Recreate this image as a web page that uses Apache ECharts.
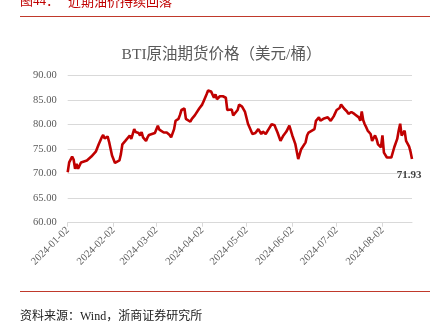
<!DOCTYPE html>
<html>
<head>
<meta charset="utf-8">
<script src="https://cdn.jsdelivr.net/npm/echarts@6/dist/echarts.min.js"></script>
<style>
html,body{margin:0;padding:0;background:#fff;}
#chart{width:443px;height:322px;}
</style>
</head>
<body>
<div id="chart"></div>
<script>
var startDate = '2024-01-02';
var endDate = '2024-08-22';
var tickLabels = ['2024-01-02','2024-02-02','2024-03-02','2024-04-02','2024-05-02','2024-06-02','2024-07-02','2024-08-02'];
var yTicks = [60, 65, 70, 75, 80, 85, 90];

var dates = [
'2024-01-02','2024-01-03','2024-01-05','2024-01-06','2024-01-07','2024-01-08','2024-01-09','2024-01-11','2024-01-13','2024-01-15','2024-01-16','2024-01-18','2024-01-19','2024-01-21','2024-01-22','2024-01-23','2024-01-25','2024-01-26','2024-01-27','2024-01-29','2024-01-30',
'2024-02-01','2024-02-03','2024-02-04','2024-02-06','2024-02-07','2024-02-08','2024-02-10','2024-02-11','2024-02-13','2024-02-14','2024-02-15','2024-02-16','2024-02-17','2024-02-19','2024-02-20','2024-02-21','2024-02-22','2024-02-24','2024-02-25','2024-02-26','2024-02-28',
'2024-03-01','2024-03-03','2024-03-04','2024-03-05','2024-03-07','2024-03-08','2024-03-09','2024-03-11','2024-03-12','2024-03-13','2024-03-14','2024-03-15','2024-03-17','2024-03-18','2024-03-19','2024-03-21','2024-03-22','2024-03-23','2024-03-25','2024-03-26','2024-03-28','2024-03-31',
'2024-04-01','2024-04-02','2024-04-03','2024-04-05','2024-04-06','2024-04-08','2024-04-09','2024-04-10','2024-04-11','2024-04-12','2024-04-14','2024-04-15','2024-04-16','2024-04-18','2024-04-19','2024-04-20','2024-04-22','2024-04-23','2024-04-26','2024-04-27','2024-04-29',
'2024-05-01','2024-05-03','2024-05-06','2024-05-08','2024-05-09','2024-05-10','2024-05-12','2024-05-13','2024-05-15','2024-05-17','2024-05-19','2024-05-21','2024-05-22','2024-05-23','2024-05-25','2024-05-27','2024-05-29','2024-05-31',
'2024-06-02','2024-06-04','2024-06-06','2024-06-08','2024-06-11','2024-06-12','2024-06-13','2024-06-14','2024-06-17','2024-06-18','2024-06-20','2024-06-21','2024-06-23','2024-06-24','2024-06-26','2024-06-28','2024-06-30',
'2024-07-02','2024-07-04','2024-07-05','2024-07-07','2024-07-09','2024-07-10','2024-07-12','2024-07-14','2024-07-15','2024-07-17','2024-07-18','2024-07-19','2024-07-20','2024-07-21','2024-07-22','2024-07-23','2024-07-25','2024-07-26','2024-07-28','2024-07-29','2024-07-30',
'2024-08-01','2024-08-02','2024-08-03','2024-08-05','2024-08-06','2024-08-08','2024-08-10','2024-08-12','2024-08-13','2024-08-14','2024-08-15','2024-08-17','2024-08-18','2024-08-20','2024-08-21','2024-08-22'
];
var prices = [
70.3,72.3,73.5,72.9,71.0,72.0,71.0,72.3,72.5,72.7,72.7,73.5,73.7,74.5,74.7,76.0,77.4,77.9,77.2,77.6,76.5,
73.7,72.2,72.3,72.7,74.0,76.0,76.7,77.0,77.8,77.1,78.1,79.1,78.5,78.3,77.8,78.5,77.4,76.7,77.4,77.9,78.1,
78.3,79.8,79.0,79.1,78.4,78.8,78.4,77.9,77.4,77.2,79.1,80.8,81.2,82.0,83.0,83.3,81.2,80.8,80.6,81.2,81.9,83.3,83.5,
84.1,84.8,86.2,87.0,86.8,86.5,85.5,86.2,85.2,85.8,85.6,85.8,85.5,83.0,82.8,83.1,81.9,83.0,84.1,83.7,82.6,
80.2,78.1,78.3,78.4,79.1,78.1,78.6,78.1,79.1,80.1,79.9,79.1,78.4,76.7,77.8,78.6,79.8,77.8,
76.1,73.0,75.0,76.4,77.8,78.4,78.8,79.1,80.8,81.5,80.8,81.2,80.9,81.5,80.8,81.7,83.0,
83.4,84.1,83.3,82.7,82.2,82.6,82.2,81.9,81.5,80.8,82.7,80.9,80.1,79.5,78.8,78.1,76.7,77.8,77.1,76.0,75.4,
77.8,74.3,73.3,73.0,73.3,75.4,77.1,78.8,80.2,77.8,78.8,76.7,75.6,74.5,73.0,71.93
];

function fmt(d){
  var m = d.getMonth()+1, day = d.getDate();
  return d.getFullYear() + '-' + (m<10?'0':'') + m + '-' + (day<10?'0':'') + day;
}
var categories = [];
(function(){
  var p = startDate.split('-'), e = endDate.split('-');
  var d = new Date(+p[0], +p[1]-1, +p[2]);
  var end = new Date(+e[0], +e[1]-1, +e[2]);
  while (d <= end) { categories.push(fmt(d)); d.setDate(d.getDate()+1); }
})();
var lookup = {};
dates.forEach(function(d,i){ lookup[d] = prices[i]; });
var lastDate = dates[dates.length-1];
var lastValue = prices[prices.length-1];
var seriesData = categories.map(function(c){ return (c in lookup) ? lookup[c] : null; });
var tickSet = {};
tickLabels.forEach(function(t){ tickSet[t] = true; });

var serif = "'Liberation Serif', 'Noto Sans CJK SC', serif";
var chart = echarts.init(document.getElementById('chart'), null, {renderer: 'canvas'});
chart.setOption({
  backgroundColor: '#fff',
  animation: false,
  title: {
    text: 'BTI原油期货价格（美元/桶）',
    left: 'center', top: 42,
    textStyle: {color: '#595959', fontSize: 15.5, fontWeight: 'normal', fontFamily: serif}
  },
  grid: {left: 67.7, right: 31, top: 75.7, bottom: 99.3, containLabel: false},
  xAxis: {
    type: 'category', data: categories, boundaryGap: false,
    axisLine: {lineStyle: {color: '#d9d9d9'}},
    axisTick: {show: true, interval: function(i, v){ return !!tickSet[v]; }, length: 4, lineStyle: {color: '#d9d9d9'}},
    axisLabel: {interval: function(i, v){ return !!tickSet[v]; }, rotate: 45, color: '#595959', fontSize: 10.5, fontFamily: serif, margin: 6},
    splitLine: {show: false}
  },
  yAxis: {
    type: 'value', min: yTicks[0], max: yTicks[yTicks.length-1], interval: 5,
    axisLine: {show: false}, axisTick: {show: false},
    axisLabel: {formatter: function(v){ return v.toFixed(2); }, color: '#595959', fontSize: 10.5, fontFamily: serif, margin: 11},
    splitLine: {lineStyle: {color: '#d9d9d9', width: 1}}
  },
  series: [{
    type: 'line', data: seriesData, connectNulls: true, showSymbol: false, symbol: 'none',
    lineStyle: {color: '#C00000', width: 2.6}, itemStyle: {color: '#C00000'},
    markPoint: {
      symbol: 'circle', symbolSize: 1, itemStyle: {color: 'rgba(0,0,0,0)'},
      data: [{coord: [lastDate, lastValue], value: lastValue}],
      label: {show: true, position: 'bottom', distance: 5, offset: [-3, 0],
        formatter: function(p){ return Number(p.value).toFixed(2); },
        color: '#404040', fontWeight: 'bold', fontSize: 11, fontFamily: "'Liberation Serif', serif"}
    }
  }],
  graphic: [
    {type: 'text', left: 20, top: -5, style: {text: '图44：', fill: '#C00000', font: "13px 'Liberation Serif', 'Noto Sans CJK SC'"}},
    {type: 'text', left: 68, top: -5, style: {text: '近期油价持续回落', fill: '#C00000', font: "13px 'Noto Sans CJK SC'"}},
    {type: 'line', shape: {x1: 20, y1: 16.5, x2: 430, y2: 16.5}, style: {stroke: '#C0392B', lineWidth: 1}},
    {type: 'line', shape: {x1: 20, y1: 291.5, x2: 430, y2: 291.5}, style: {stroke: '#C0392B', lineWidth: 1}},
    {type: 'text', left: 20, top: 311, style: {text: '资料来源：Wind，浙商证券研究所', fill: '#222', font: "12px 'Liberation Serif', 'Noto Sans CJK SC'"}}
  ]
});
</script>
</body>
</html>
